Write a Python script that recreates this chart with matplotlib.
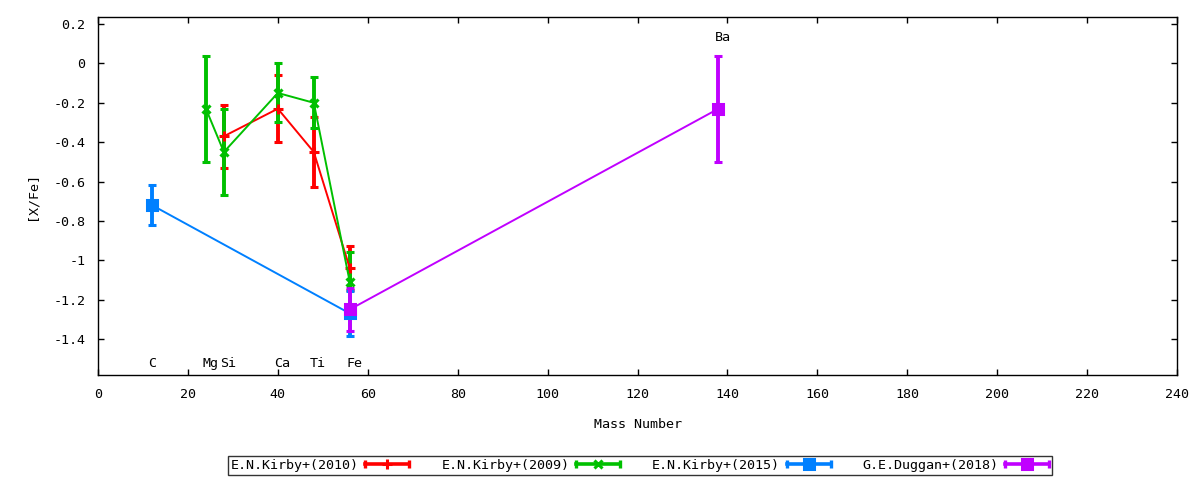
import matplotlib
matplotlib.use("Agg")
import matplotlib.pyplot as plt
from matplotlib.lines import Line2D
from matplotlib.ticker import FuncFormatter, MultipleLocator

plt.rcParams["font.family"] = ["DejaVu Sans Mono"]
plt.rcParams["font.size"] = 9.6

# [X/Fe] per survey, x = mass number
kirby10_mass = [28, 40, 48, 56]
kirby10_val = [-0.37, -0.23, -0.45, -1.04]
kirby10_err = [0.16, 0.17, 0.18, 0.11]

kirby09_mass = [24, 28, 40, 48, 56]
kirby09_val = [-0.23, -0.45, -0.15, -0.20, -1.11]
kirby09_err = [0.27, 0.22, 0.15, 0.13, 0.15]

kirby15_mass = [12, 56]
kirby15_val = [-0.72, -1.27]
kirby15_err = [0.10, 0.115]

duggan_mass = [56, 138]
duggan_val = [-1.25, -0.23]
duggan_err = [0.11, 0.27]

elem_names = ["C", "Mg", "Si", "Ca", "Ti", "Fe"]
elem_mass = [12, 24, 28, 40, 48, 56]
ba_name, ba_mass, ba_y = "Ba", 138, 0.13

series = [
    ("E.N.Kirby+(2010)", kirby10_mass, kirby10_val, kirby10_err, "#ff0000", "+", 6.5),
    ("E.N.Kirby+(2009)", kirby09_mass, kirby09_val, kirby09_err, "#00c000", "x", 5.5),
    ("E.N.Kirby+(2015)", kirby15_mass, kirby15_val, kirby15_err, "#0080ff", "s", 6.5),
    ("G.E.Duggan+(2018)", duggan_mass, duggan_val, duggan_err, "#c000ff", "s", 6.5),
]


class KeyHandler:
    """gnuplot-like key sample: |--marker--|"""
    def legend_artist(self, legend, orig, fontsize, handlebox):
        x0, y0 = -handlebox.xdescent, -handlebox.ydescent
        w, h = handlebox.width, handlebox.height
        ym = y0 + h / 2
        t = handlebox.get_transform()
        c = orig.get_color()
        line = Line2D([x0, x0 + w], [ym, ym], color=c, lw=2.6, transform=t)
        caps = Line2D([x0, x0 + w], [ym, ym], ls="none", marker="|", ms=6,
                      mew=2.4, color=c, transform=t)
        mk = Line2D([x0 + w / 2], [ym], ls="none", marker=orig.get_marker(),
                    ms=orig.get_markersize(), mew=2.2, color=c, transform=t)
        for a in (line, caps, mk):
            handlebox.add_artist(a)
        return line


fig = plt.figure(figsize=(12, 4.8), dpi=100)
ax = fig.add_axes([98 / 1200, 1 - 375 / 480, 1079 / 1200, 358 / 480])

handles = []
for label, m, v, e, col, mk, ms in series:
    ax.errorbar(m, v, yerr=e, color=col, lw=1.4, elinewidth=2.8, capsize=3,
                capthick=2.3, marker=mk, ms=ms, mew=2.2)
    handles.append(Line2D([], [], color=col, marker=mk, ms=ms, label=label))

for name, m in zip(elem_names, elem_mass):
    ax.text(m - 0.8, -1.525, name, ha="left", va="center")
ax.text(ba_mass - 0.8, ba_y, ba_name, ha="left", va="center")

ax.set_xlim(0, 240)
ax.set_ylim(-1.583, 0.236)
ax.xaxis.set_major_locator(MultipleLocator(20))
ax.yaxis.set_major_locator(MultipleLocator(0.2))
ax.yaxis.set_major_formatter(FuncFormatter(lambda v, p: "%g" % round(v, 2)))
ax.tick_params(direction="in", length=4, width=1, top=True, right=True, pad=9)
for s in ax.spines.values():
    s.set_linewidth(1)

ax.set_xlabel("Mass Number")
ax.set_ylabel("[X/Fe]")
ax.xaxis.set_label_coords(0.5, -0.120)
ax.yaxis.set_label_coords(-0.0547, 0.5)

leg = fig.legend(handles=handles, handler_map={Line2D: KeyHandler()},
                 loc="center", bbox_to_anchor=(640 / 1200, 1 - 465.5 / 480),
                 ncol=4, markerfirst=False, frameon=True, fancybox=False,
                 edgecolor="black", handlelength=3.3, handletextpad=0.5,
                 columnspacing=2.4, borderpad=0.2, borderaxespad=0)
leg.get_frame().set_linewidth(1)

fig.savefig("out.png", dpi=100)
